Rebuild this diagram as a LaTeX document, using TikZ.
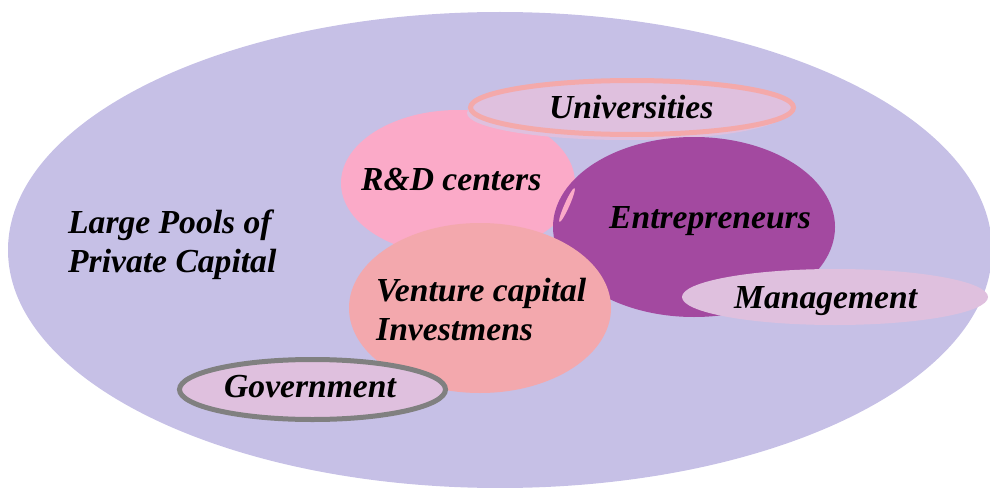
\documentclass[tikz,border=0pt]{standalone}
\usepackage{fontspec}
\setmainfont{Liberation Serif}
\usepackage{tikz}
\usetikzlibrary{shapes.geometric}

\definecolor{poolfill}{RGB}{198,192,230}
\definecolor{softfill}{RGB}{223,192,222}
\definecolor{univline}{RGB}{244,169,170}
\definecolor{rndfill}{RGB}{251,170,200}
\definecolor{entrefill}{RGB}{163,73,160}
\definecolor{ventfill}{RGB}{243,168,173}
\definecolor{govline}{RGB}{128,128,128}

\begin{document}
\begin{tikzpicture}[x=1pt, y=-1pt,
		blob/.style={ellipse, inner sep=0pt, draw=none},
		lbl/.style={anchor=base west, inner sep=0pt, align=left,
			font=\fontsize{33.6}{39}\selectfont\bfseries\itshape}]
		
		\useasboundingbox (0,0) rectangle (990,487);
		
		% background pool
		\node[blob, fill=poolfill, minimum width=984pt, minimum height=476pt] (pools) at (500,250) {};
		
		\node[blob, fill=rndfill, minimum width=234pt, minimum height=146pt] (rnd) at (458,183) {};
		
		% universities, fill slips out below the ring
		\node[blob, fill=softfill, minimum width=318pt, minimum height=54pt] (univshade) at (626,113) {};
		\node[blob, fill=softfill, draw=univline, line width=5pt, minimum width=323pt, minimum height=54pt] (univ) at (632,107.5) {};
		
		\node[blob, fill=entrefill, minimum width=282pt, minimum height=180pt] (entre) at (694,227) {};
		\node[blob, fill=rndfill, rotate=66, minimum width=37pt, minimum height=5pt] (glint) at (567,205) {};
		
		\node[blob, fill=ventfill, minimum width=262pt, minimum height=170pt] (vent) at (480,308) {};
		
		\node[blob, fill=softfill, minimum width=306pt, minimum height=56pt] (mgmt) at (835,297) {};
		
		\node[blob, fill=softfill, draw=govline, line width=5pt, minimum width=266pt, minimum height=60pt] (gov) at (312.5,389.5) {};
		
		% labels (base is the last line)
		\node[lbl] (poolstext) at (68,272) {Large Pools of\\Private Capital};
		\node[lbl] (univtext) at (549,118) {Universities};
		\node[lbl] (rndtext) at (361,190) {R\&D centers};
		\node[lbl] (entretext) at (609,228) {Entrepreneurs};
		\node[lbl] (venttext) at (376,340) {Venture capital\\Investmens};
		\node[lbl] (mgmttext) at (734,308) {Management};
		\node[lbl] (govtext) at (224,397) {Government};
		
\end{tikzpicture}
\end{document}
